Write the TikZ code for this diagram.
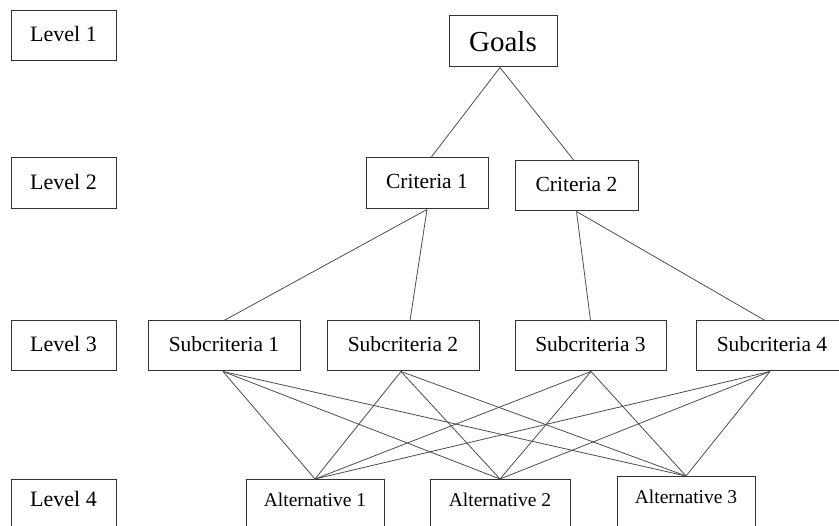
\documentclass[tikz,border=0pt]{standalone}
\usepackage{fontspec}
\setmainfont{Liberation Serif}
\begin{document}
\begin{tikzpicture}[x=1pt,y=-1pt,
  box/.style={draw=black!80, line width=1pt, inner sep=0pt, text depth=4pt},
  cutbox/.style={draw=black!80, line width=1pt, anchor=north, inner xsep=0pt, inner ysep=12pt, text height=15pt, text depth=40pt},
  link/.style={draw=black!70, line width=0.8pt},
  lvl/.style={font=\fontsize{22}{26}\selectfont},
  crit/.style={font=\fontsize{21.5}{25}\selectfont},
  alt/.style={font=\fontsize{19.5}{23}\selectfont}]
\useasboundingbox (0,0) rectangle (839,526);
\clip (0,0) rectangle (839,526);
% level boxes
\node[box, lvl, minimum width=105pt, minimum height=50pt] (l1) at (63.5,36) {Level 1};
\node[box, lvl, minimum width=105pt, minimum height=51pt] (l2) at (63.5,183.5) {Level 2};
\node[box, lvl, minimum width=105pt, minimum height=50pt] (l3) at (63.5,346) {Level 3};
\node[cutbox, lvl, minimum width=105pt] (l4) at (63.5,479) {Level 4};
% hierarchy
\node[box, font=\fontsize{29}{34}\selectfont, text depth=0pt, minimum width=108pt, minimum height=51pt] (g) at (503,41.5) {Goals};
\node[box, crit, minimum width=122pt, minimum height=51pt] (c1) at (427,183.5) {Criteria 1};
\node[box, crit, minimum width=123pt, minimum height=50pt] (c2) at (576.5,186) {Criteria 2};
\node[box, crit, minimum width=152pt, minimum height=50pt] (s1) at (224,346) {Subcriteria 1};
\node[box, crit, minimum width=152pt, minimum height=50pt] (s2) at (403,346) {Subcriteria 2};
\node[box, crit, minimum width=151pt, minimum height=50pt] (s3) at (590.5,346) {Subcriteria 3};
\node[box, crit, minimum width=152pt, minimum height=50pt] (s4) at (772,346) {Subcriteria 4};
\node[cutbox, alt, minimum width=138pt] (a1) at (315,479) {Alternative 1};
\node[cutbox, alt, minimum width=140pt] (a2) at (500,479) {Alternative 2};
\node[cutbox, alt, minimum width=138pt] (a3) at (686,476) {Alternative 3};
% connectors
\draw[link] ([xshift=-3pt]g.south) -- ([xshift=4pt]c1.north);
\draw[link] ([xshift=-3pt]g.south) -- ([xshift=-2.5pt]c2.north);
\draw[link] (c1.south) -- (s1.north);
\draw[link] (c1.south) -- ([xshift=7pt]s2.north);
\draw[link] (c2.south) -- (s3.north);
\draw[link] (c2.south) -- ([xshift=-7pt]s4.north);
\foreach \s/\dx in {s1/-1,s2/-2,s3/0.5,s4/-2}
  \foreach \a in {a1,a2,a3}
    \draw[link] ([xshift=\dx pt]\s.south) -- (\a.north);
\end{tikzpicture}
\end{document}
